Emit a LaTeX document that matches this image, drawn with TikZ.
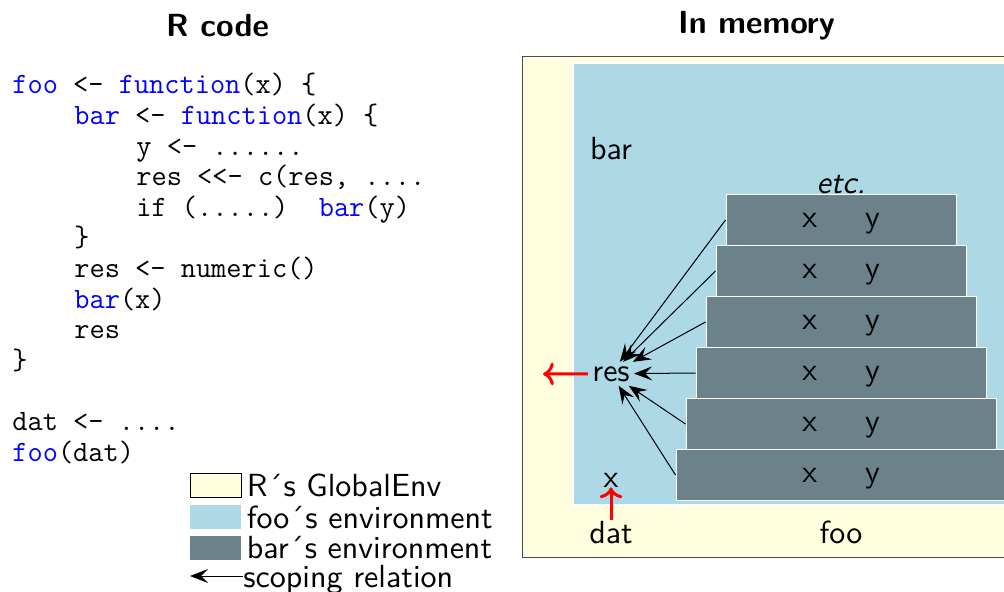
\documentclass[tikz,border=0pt]{standalone}
\usepackage{fontspec}
\usetikzlibrary{arrows.meta,positioning}

\newfontfamily\labsans{lmsans10-regular}[Extension=.otf, ItalicFont=lmsans10-oblique]
\definecolor{globalcol}{RGB}{255,255,224}
\definecolor{foocol}{RGB}{173,216,230}
\definecolor{barcol}{RGB}{107,130,138}
\newcommand{\kw}[1]{\textcolor{blue}{#1}}
\newcommand{\labfont}{\labsans\fontsize{16}{19}\selectfont}

\begin{document}
\begin{tikzpicture}[x=0.5pt,y=-0.5pt,
        title/.style={
            font=\sffamily\bfseries\fontsize{16}{19}\selectfont,
            anchor=base,
            inner sep=0pt},
        codeline/.style={
            font=\ttfamily\fontsize{14.76}{15}\selectfont,
            anchor=base west,
            inner sep=0pt},
        memlabel/.style={font=\labfont, anchor=base, inner sep=0pt},
        barbox/.style={
            rectangle,
            fill=barcol,
            draw=white,
            line width=0.5pt,
            minimum height=25.5pt,
            text depth=0pt,
            font=\labfont},
        swatch/.style={rectangle, minimum width=25.5pt, minimum height=12pt, inner sep=0pt},
        legendtext/.style={font=\labfont, inner sep=0pt, text height=11pt, text depth=0pt},
        scopearrow/.style={-{Stealth[length=9pt,width=7pt,inset=3.5pt]}, line width=0.5pt},
        redarrow/.style={-{Computer Modern Rightarrow[scale=1.1]}, red, line width=1.5pt},
        node distance=2.5pt
        ]
        \useasboundingbox (0,0) rectangle (1004,592);
        \clip (0,0) rectangle (1004,592);

        \node[title] (rtitle) at (217.5,37) {R code};
        \node[title] (memtitle) at (756.5,34) {In memory};

        \foreach \row/\col/\txt in {% row/indent/line
            0/0/{\kw{foo} <- \kw{function}(x) \{},
            1/4/{\kw{bar} <- \kw{function}(x) \{},
            2/8/{y <- ......},
            3/8/{res <<- c(res, ....},
            4/8/{if (.....)\ \ \kw{bar}(y)},
            5/4/{\}},
            6/4/{res <- numeric()},
            7/4/{\kw{bar}(x)},
            8/4/{res},
            9/0/{\}},
            11/0/{dat <- ....},
            12/0/{\kw{foo}(dat)}}
            \node[codeline] (code\row) at ({12+15.5*\col},{94+30.6*\row}) {\txt};

        % environments
        \draw[fill=globalcol, draw=black!70, line width=0.5pt] (522,57) rectangle (1030,557);
        \draw[fill=foocol, draw=white, line width=1.2pt] (573,63) rectangle (1030,505);

        \foreach \i in {1,...,6}{
            \pgfmathsetmacro\bw{105+10*\i}
            \node[barbox, minimum width=\bw pt] (bar\i) at (841,{169+51*\i}) {x\hspace{24pt}y};
        }
        \node[memlabel, font=\labfont\itshape] (etc) at (bar1.north) {etc.};

        \node[memlabel] (barlab) at (611,160) {bar};
        \node[memlabel, inner sep=2pt] (res) at (611,381) {res};
        \node[memlabel] (xarg) at (611,487) {x};
        \node[memlabel] (dat) at (611,543) {dat};
        \node[memlabel] (foolab) at (841,543) {foo};
        \coordinate (resout) at (543,374);

        \foreach \i in {1,...,6}
            \draw[scopearrow] (bar\i.west) -- (res);
        \draw[redarrow] (res.west) -- (resout);
        \draw[redarrow] (dat.north) -- (xarg.south);

        % legend
        \node[swatch, fill=globalcol, draw=black, line width=0.5pt] (keyglobal) at (215.5,485.5) {};
        \node[swatch, fill=foocol] (keyfoo) at (215.5,517) {};
        \node[swatch, fill=barcol] (keybar) at (215.5,547.5) {};
        \node[legendtext, right=of keyglobal] (txtglobal) {R´s GlobalEnv};
        \node[legendtext, right=of keyfoo] (txtfoo) {foo´s environment};
        \node[legendtext, right=of keybar] (txtbar) {bar´s environment};
        \node[legendtext, anchor=west] (txtscope) at (243,576) {scoping relation};
        \coordinate (keytip) at (190,576);
        \draw[scopearrow] (txtscope.west) -- (keytip);
\end{tikzpicture}
\end{document}
